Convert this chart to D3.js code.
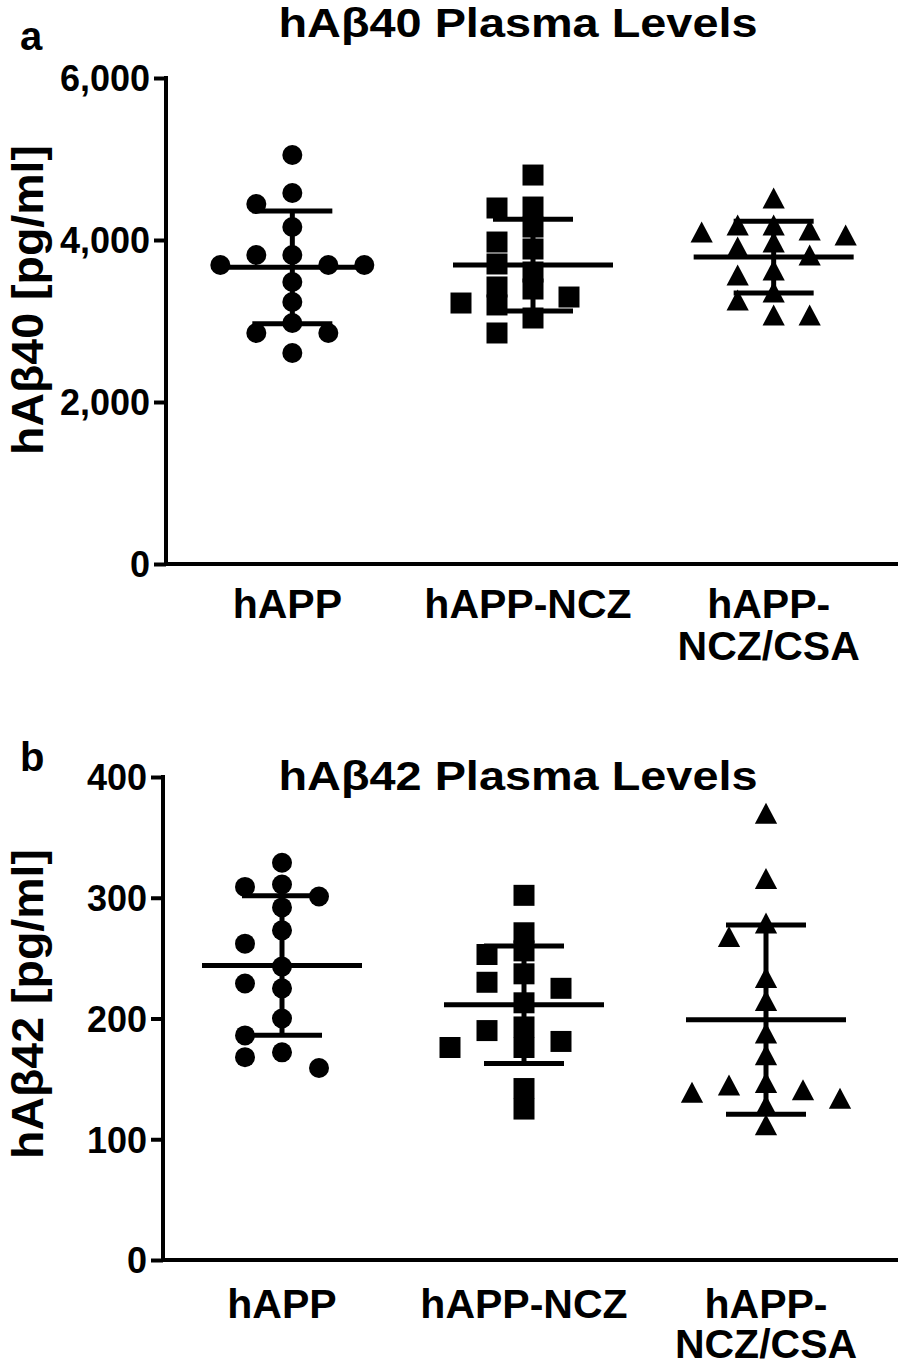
<!DOCTYPE html>
<html>
<head>
<meta charset="utf-8">
<script src="https://cdn.jsdelivr.net/npm/d3@7"></script>
<style>
  body { margin: 0; background: #fff; }
  svg { display: block; font-family: "Liberation Sans", Arial, sans-serif; font-weight: bold; }
  .axis path, .axis line { stroke: #000; stroke-width: 4; }
  .axis text { font-size: 36px; font-weight: bold; fill: #000; }
</style>
</head>
<body>
<div id="chart"></div>
<script>
// Data
const categories = ["hAPP", "hAPP-NCZ", "hAPP-NCZ/CSA"];
const categoryLines = [["hAPP"], ["hAPP-NCZ"], ["hAPP-", "NCZ/CSA"]];

// hAβ40 plasma levels [pg/ml]
const ab40Happ = [5049, 4580, 4444, 4160, 3815, 3815, 3691, 3691, 3691, 3481, 3235, 2975, 2852, 2852, 2605];
const ab40Ncz = [4802, 4407, 4395, 4160, 3975, 3889, 3704, 3605, 3395, 3420, 3222, 3198, 3296, 3037, 2852];
const ab40NczCsa = [4518, 4123, 4185, 4185, 4062, 4099, 3975, 3914, 3815, 3568, 3630, 3358, 3259, 3074, 3074];
const ab40Ticks = [0, 2000, 4000, 6000];

// hAβ42 plasma levels [pg/ml]
const ab42Happ = [329, 309, 311, 301, 292, 273, 262, 243, 229, 225, 200, 186, 172, 168, 159];
const ab42Ncz = [302, 271, 256, 253, 237, 230, 225, 213, 193, 190, 176, 181, 176, 142, 125];
const ab42NczCsa = [370, 316, 279, 268, 234, 215, 188, 170, 145, 147, 139, 134, 141, 128, 112];
const ab42Ticks = [0, 100, 200, 300, 400];

///////////////////////////////////////////////////////////////////////////////
const W = 898, H = 1366;
const svg = d3.select("#chart").append("svg").attr("width", W).attr("height", H);

const triangle = {
  draw(ctx, size) {
    const w = Math.sqrt(size);
    ctx.moveTo(0, -w / 2);
    ctx.lineTo(w * 0.53, w / 2);
    ctx.lineTo(-w * 0.53, w / 2);
    ctx.closePath();
  }
};
const symbols = [
  d3.symbol().type(d3.symbolCircle).size(Math.PI * 10 * 10),
  d3.symbol().type(d3.symbolSquare).size(21 * 21),
  d3.symbol().type(triangle).size(21 * 21)
];

const panels = [
  {
    letter: "a", title: "hAβ40 Plasma Levels", yTitle: "hAβ40 [pg/ml]",
    groups: [ab40Happ, ab40Ncz, ab40NczCsa], ticks: ab40Ticks, domain: [0, 6000],
    left: 166, top: 78, bottom: 564, right: 898, xRange: [172, 894], colStep: 36,
    titleY: 37, letterY: 50, yTitleY: 300, labelY: 618, labelDy: 42, labelDx: -5,
    tickFmt: d3.format(",")
  },
  {
    letter: "b", title: "hAβ42 Plasma Levels", yTitle: "hAβ42 [pg/ml]",
    groups: [ab42Happ, ab42Ncz, ab42NczCsa], ticks: ab42Ticks, domain: [0, 400],
    left: 163, top: 777, bottom: 1260, right: 898, xRange: [161, 887], colStep: 37,
    titleY: 790, letterY: 771, yTitleY: 1004, labelY: 1318, labelDy: 40, labelDx: 0,
    tickFmt: d3.format("d")
  }
];

panels.forEach(renderPanel);

function renderPanel(p) {
  const g = svg.append("g");
  const y = d3.scaleLinear().domain(p.domain).range([p.bottom, p.top]);
  const x = d3.scalePoint().domain(categories).range(p.xRange).padding(0.5);

  // Titles
  g.append("text")
      .attr("x", 518).attr("y", p.titleY)
      .attr("text-anchor", "middle")
      .attr("textLength", 479)
      .attr("lengthAdjust", "spacingAndGlyphs")
      .style("font-size", "41px")
      .text(p.title);

  g.append("text")
      .attr("x", 20).attr("y", p.letterY)
      .style("font-size", "40px")
      .text(p.letter);

  g.append("text")
      .attr("transform", `translate(43, ${p.yTitleY}) rotate(-90)`)
      .attr("text-anchor", "middle")
      .attr("textLength", 310)
      .attr("lengthAdjust", "spacingAndGlyphs")
      .style("font-size", "45px")
      .text(p.yTitle);

  // Y axis
  const yAxis = g.append("g")
      .attr("class", "axis")
      .attr("transform", `translate(${p.left}, 0)`)
      .call(d3.axisLeft(y).tickValues(p.ticks).tickFormat(p.tickFmt).tickSize(12).tickSizeOuter(0).tickPadding(4));
  yAxis.select(".domain").attr("d", `M0,${p.top - 2}V${p.bottom + 2}`);
  yAxis.selectAll("text").attr("dy", "0.36em");

  // X axis line (no ticks)
  g.append("line")
      .attr("x1", p.left - 2).attr("x2", p.right)
      .attr("y1", p.bottom).attr("y2", p.bottom)
      .style("stroke", "#000").style("stroke-width", 4);

  // Category labels
  categories.forEach((c, i) => {
    const t = g.append("text")
        .attr("x", x(c) + p.labelDx).attr("y", p.labelY)
        .attr("text-anchor", "middle")
        .style("font-size", "41px");
    categoryLines[i].forEach((line, j) => {
      t.append("tspan").attr("x", x(c) + p.labelDx).attr("dy", j ? p.labelDy : 0).text(line);
    });
  });

  // Scatter dots, spread in columns like a dot plot
  p.groups.forEach((values, i) => {
    const cx = x(categories[i]);
    const pts = swarm(values.map(v => y(v)));

    g.append("g").selectAll("path")
      .data(pts)
      .join("path")
        .attr("transform", d => `translate(${cx + d.col * p.colStep}, ${d.y})`)
        .attr("d", symbols[i]())
        .style("fill", "#000");

    // Mean +/- SD
    const mean = d3.mean(values), sd = d3.deviation(values);
    const eb = g.append("g").style("stroke", "#000").style("stroke-width", 5);
    eb.append("line").attr("x1", cx - 80).attr("x2", cx + 80).attr("y1", y(mean)).attr("y2", y(mean));
    eb.append("line").attr("x1", cx).attr("x2", cx).attr("y1", y(mean + sd)).attr("y2", y(mean - sd));
    eb.append("line").attr("x1", cx - 40).attr("x2", cx + 40).attr("y1", y(mean + sd)).attr("y2", y(mean + sd));
    eb.append("line").attr("x1", cx - 40).attr("x2", cx + 40).attr("y1", y(mean - sd)).attr("y2", y(mean - sd));
  });
}

// Greedy column placement: each point goes to the nearest column with room
function swarm(ys) {
  const order = ys.map((v, i) => i).sort((a, b) => ys[a] - ys[b]);
  const cols = {};
  const out = [];
  const candidates = [0, -1, 1, -2, 2, -3, 3];
  order.forEach(i => {
    const yy = ys[i];
    for (const c of candidates) {
      const used = cols[c] || [];
      if (used.every(u => Math.abs(u - yy) >= 17)) {
        used.push(yy);
        cols[c] = used;
        out.push({y: yy, col: c});
        break;
      }
    }
  });
  return out;
}
</script>
</body>
</html>
